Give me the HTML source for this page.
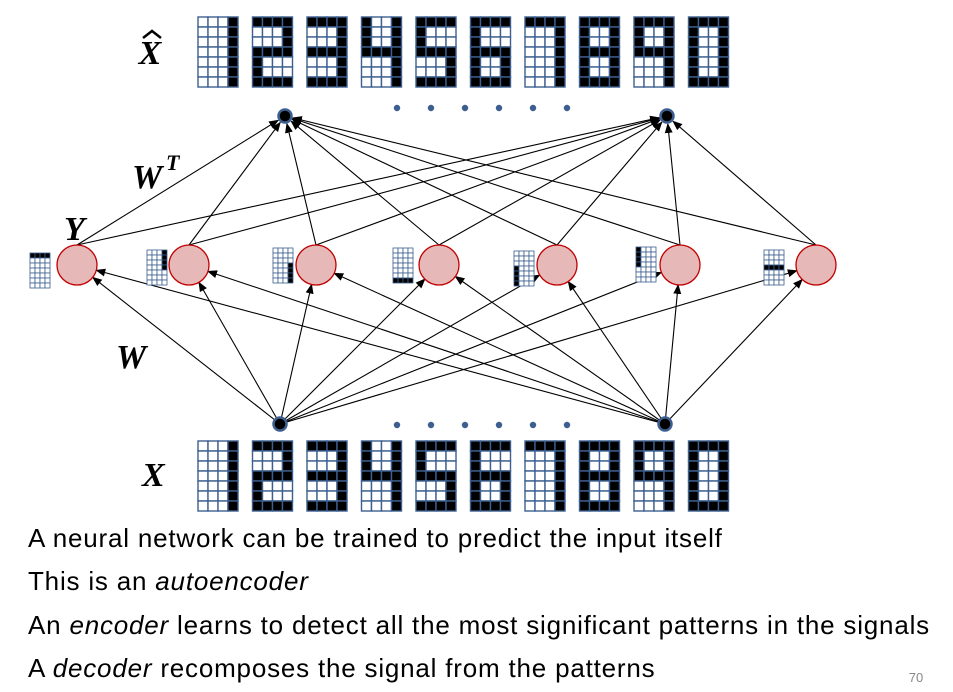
<!DOCTYPE html>
<html><head><meta charset="utf-8"><style>
body{margin:0;width:953px;height:692px;background:#fff;overflow:hidden;position:relative;font-family:"Liberation Sans",sans-serif}
.t{position:absolute;left:28px;font-size:26px;letter-spacing:0.8px;color:#000;white-space:nowrap;line-height:30px}
</style></head><body>
<svg id="s" width="953" height="692" style="position:absolute;left:0;top:0">
<defs><marker id="a" markerWidth="10" markerHeight="8" refX="9" refY="4" orient="auto" markerUnits="userSpaceOnUse"><path d="M0,0 L10,4 L0,8 z" fill="#000"/></marker></defs>
<g id="edges" stroke="#000" stroke-width="1.1"></g>
<g id="nodes"></g>
<g id="grids"></g>
<text x="150" y="64" font-family="Liberation Serif" font-weight="bold" font-style="italic" font-size="34" text-anchor="middle">X</text>
<path d="M143,38 L152,31 L161,38" fill="none" stroke="#000" stroke-width="2.5"/>
<text x="132" y="188" font-family="Liberation Serif" font-weight="bold" font-style="italic" font-size="34">W</text>
<text x="166" y="170" font-family="Liberation Serif" font-weight="bold" font-style="italic" font-size="22">T</text>
<text x="64" y="240" font-family="Liberation Serif" font-weight="bold" font-style="italic" font-size="34">Y</text>
<text x="116" y="368" font-family="Liberation Serif" font-weight="bold" font-style="italic" font-size="34">W</text>
<text x="142" y="486" font-family="Liberation Serif" font-weight="bold" font-style="italic" font-size="34">X</text>
<text x="916" y="682" font-size="13" fill="#888" text-anchor="middle" font-family="Liberation Sans">70</text>
</svg>
<div class="t" style="top:523px">A neural network can be trained to predict the input itself</div>
<div class="t" style="top:566px">This is an <i>autoencoder</i></div>
<div class="t" style="top:610px">An <i>encoder</i> learns to detect all the most significant patterns in the signals</div>
<div class="t" style="top:653px">A <i>decoder</i> recomposes the signal from the patterns</div>
<script>
const NS="http://www.w3.org/2000/svg";
function el(p,n,a){const e=document.createElementNS(NS,n);for(const k in a)e.setAttribute(k,a[k]);p.appendChild(e);return e;}
const E=document.getElementById('edges'),N=document.getElementById('nodes'),G=document.getElementById('grids');
const H=[77,189,316,439,557,680,816],HY=265,R=20;
const TOP=[[285,116],[667,116]],BOT=[[280,424],[665,424]];
for(const [tx,ty] of TOP)for(const hx of H){
  const dx=tx-hx,dy=ty-(HY-R);const L=Math.hypot(dx,dy);
  el(E,'line',{x1:hx,y1:HY-R,x2:tx-dx/L*8,y2:ty-dy/L*8,'marker-end':'url(#a)'});
}
for(const [bx,by] of BOT)for(const hx of H){
  const dx=hx-bx,dy=(HY)-by;const L=Math.hypot(dx,dy);
  el(E,'line',{x1:bx,y1:by,x2:hx-dx/L*R,y2:HY-dy/L*R,'marker-end':'url(#a)'});
}
for(const hx of H)el(N,'circle',{cx:hx,cy:HY,r:R,fill:'#e6b8b7',stroke:'#c00000','stroke-width':1.3});
for(const [x,y] of TOP.concat(BOT))el(N,'circle',{cx:x,cy:y,r:6.5,fill:'#000',stroke:'#3d5f8f','stroke-width':2.5});
for(let i=0;i<6;i++){const x=397+i*34;el(N,'circle',{cx:x,cy:108,r:3.2,fill:'#3d5f8f'});el(N,'circle',{cx:x,cy:425,r:3.2,fill:'#3d5f8f'});}
const D={
1:["...#","...#","...#","...#","...#","...#","...#"],
2:["####","...#","...#","####","#...","#...","####"],
3:["####","...#","...#","####","...#","...#","####"],
4:["#..#","#..#","#..#","####","...#","...#","...#"],
5:["####","#...","#...","####","...#","...#","####"],
6:["####","#...","#...","####","#..#","#..#","####"],
7:["####","...#","...#","...#","...#","...#","...#"],
8:["####","#..#","#..#","####","#..#","#..#","####"],
9:["####","#..#","#..#","####","...#","...#","...#"],
0:["####","#..#","#..#","#..#","#..#","#..#","####"]};
function grid(x,y,cw,ch,p,sw){
  for(let r=0;r<7;r++)for(let c=0;c<4;c++)el(G,'rect',{x:x+c*cw,y:y+r*ch,width:cw,height:ch,fill:p[r][c]=='#'?'#000':'#fff',stroke:'#3d5f8f','stroke-width':sw});
}
const order=[1,2,3,4,5,6,7,8,9,0];
order.forEach((d,i)=>{const x=198+i*54.5;grid(x,17,10,10,D[d],1.4);grid(x,441,10,10,D[d],1.4);});
const S=[
 [30,253,["####","....","....","....","....","....","...."]],
 [147,250,["...#","...#","...#","...#","....","....","...."]],
 [273,248,["....","....","....","...#","...#","...#","...#"]],
 [393,248,["....","....","....","....","....","....","####"]],
 [514,251,["....","....","....","#...","#...","#...","#..."]],
 [636,247,["#...","#...","#...","#...","....","....","...."]],
 [764,250,["....","....","....","####","....","....","...."]]];
for(const [x,y,p] of S)grid(x,y,5,5,p,0.8);
</script>
</body></html>
